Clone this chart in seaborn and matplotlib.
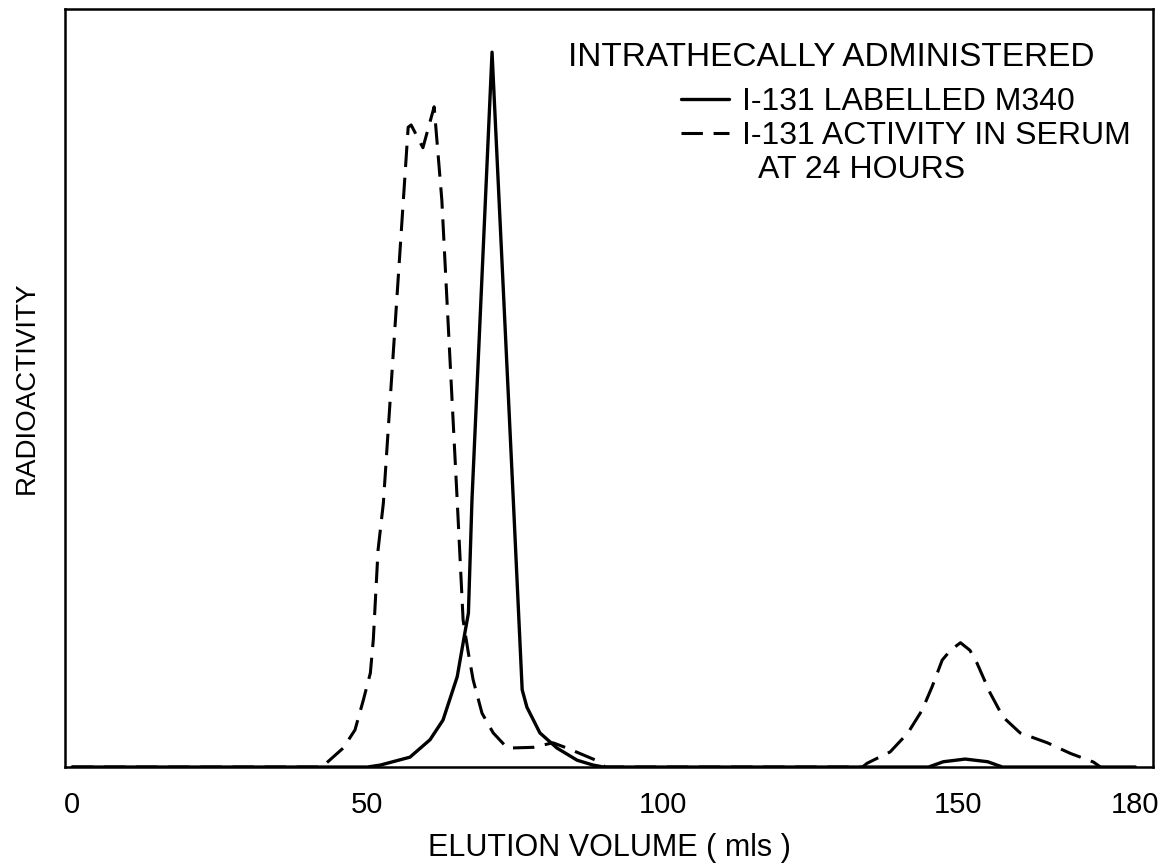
import numpy as np
import pandas as pd
import matplotlib
matplotlib.use("Agg")
import matplotlib.pyplot as plt
from matplotlib.lines import Line2D
import seaborn as sns

# Solid curve: I-131 labelled M340 (elution volume, relative radioactivity)
m340_x = [0.0, 50.0, 52.2, 57.2, 60.6, 62.8, 65.2, 66.5, 67.1, 67.7, 71.1, 74.7, 76.2, 77.0,
          79.2, 82.1, 85.5, 88.2, 90.0, 145.0, 147.5, 151.2, 155.0, 157.5, 180.0]
m340_y = [0.0, 0.0, 0.26, 1.3, 3.6, 6.2, 11.9, 17.7, 20.3, 35.2, 94.3, 35.2, 10.2, 7.9,
          4.5, 2.5, 0.9, 0.26, 0.0, 0.0, 0.7, 1.05, 0.7, 0.0, 0.0]

# Dashed curve: I-131 activity in serum at 24 hours
serum_x = [0.0, 42.3, 45.9, 47.9, 49.3, 50.5, 51.0, 51.8, 52.7, 56.9, 57.4, 59.4, 61.3, 62.6,
           65.2, 66.2, 67.1, 67.9, 69.4, 71.3, 73.7, 78.1, 81.4, 83.8, 89.4, 90.2,
           133.8, 134.6, 138.5, 141.5, 143.9, 145.6, 147.3, 148.7, 150.4, 152.0, 153.2,
           155.4, 157.6, 160.5, 165.1, 169.0, 172.9, 174.1]
serum_y = [0.0, 0.0, 2.5, 4.9, 8.8, 12.4, 16.8, 28.6, 34.8, 84.4, 84.7, 81.7, 87.1, 74.8,
           35.2, 19.4, 15.0, 11.5, 7.1, 4.5, 2.5, 2.6, 3.2, 2.5, 0.66, 0.0,
           0.0, 0.5, 2.0, 4.5, 7.5, 10.6, 14.1, 15.4, 16.4, 15.4, 13.7,
           9.8, 6.6, 4.5, 3.2, 1.8, 0.66, 0.0]

x_ticks = [0, 50, 100, 150, 180]
x_tick_labels = ["0", "50", "100", "150", "180"]

legend_title = "INTRATHECALLY ADMINISTERED"
label_m340 = "I-131 LABELLED M340"
label_serum = "I-131 ACTIVITY IN SERUM"
label_serum_2 = "  AT 24 HOURS"

sns.set_style("white")
plt.rcParams['font.family'] = ['Liberation Sans', 'DejaVu Sans']
plt.rcParams['text.color'] = 'black'
plt.rcParams['axes.labelcolor'] = 'black'
plt.rcParams['xtick.color'] = 'black'

fig = plt.figure(figsize=(11.62, 8.63), dpi=100)
ax = fig.add_axes([0.0559, 0.1112, 0.9364, 0.8784])

df_m = pd.DataFrame({"x": m340_x, "y": m340_y})
df_s = pd.DataFrame({"x": serum_x, "y": serum_y})

sns.lineplot(data=df_m, x="x", y="y", ax=ax, color="black", linewidth=2.4,
             label=label_m340, sort=True)
sns.lineplot(data=df_s, x="x", y="y", ax=ax, color="black", linewidth=2.2,
             label=label_serum, sort=True, linestyle=(0, (7, 3.5)))

ax.set_xlim(-1.2, 183.0)
ax.set_ylim(0, 100)
ax.set_xticks(x_ticks)
ax.set_xticklabels(x_tick_labels)
ax.set_yticks([])
ax.tick_params(axis="x", length=0, pad=17, labelsize=21)

for sp in ax.spines.values():
    sp.set_visible(True)
    sp.set_color("black")
    sp.set_linewidth(1.8)

ax.set_xlabel("ELUTION VOLUME ( mls )", fontsize=22, labelpad=10)
ax.set_ylabel("RADIOACTIVITY", fontsize=20, labelpad=18)

handles, labels = ax.get_legend_handles_labels()
handles = list(handles) + [Line2D([], [], linestyle="none")]
labels = list(labels) + [label_serum_2]
leg = ax.legend(handles, labels, loc="upper left", bbox_to_anchor=(0.566, 0.897),
                frameon=False, fontsize=23, handlelength=1.5, handletextpad=0.4,
                borderpad=0, borderaxespad=0, labelspacing=0.12, labelcolor="black")

ax.text(0.462, 0.936, legend_title, transform=ax.transAxes, fontsize=24,
        ha="left", va="center", color="black")

fig.savefig("out.png", dpi=100)
